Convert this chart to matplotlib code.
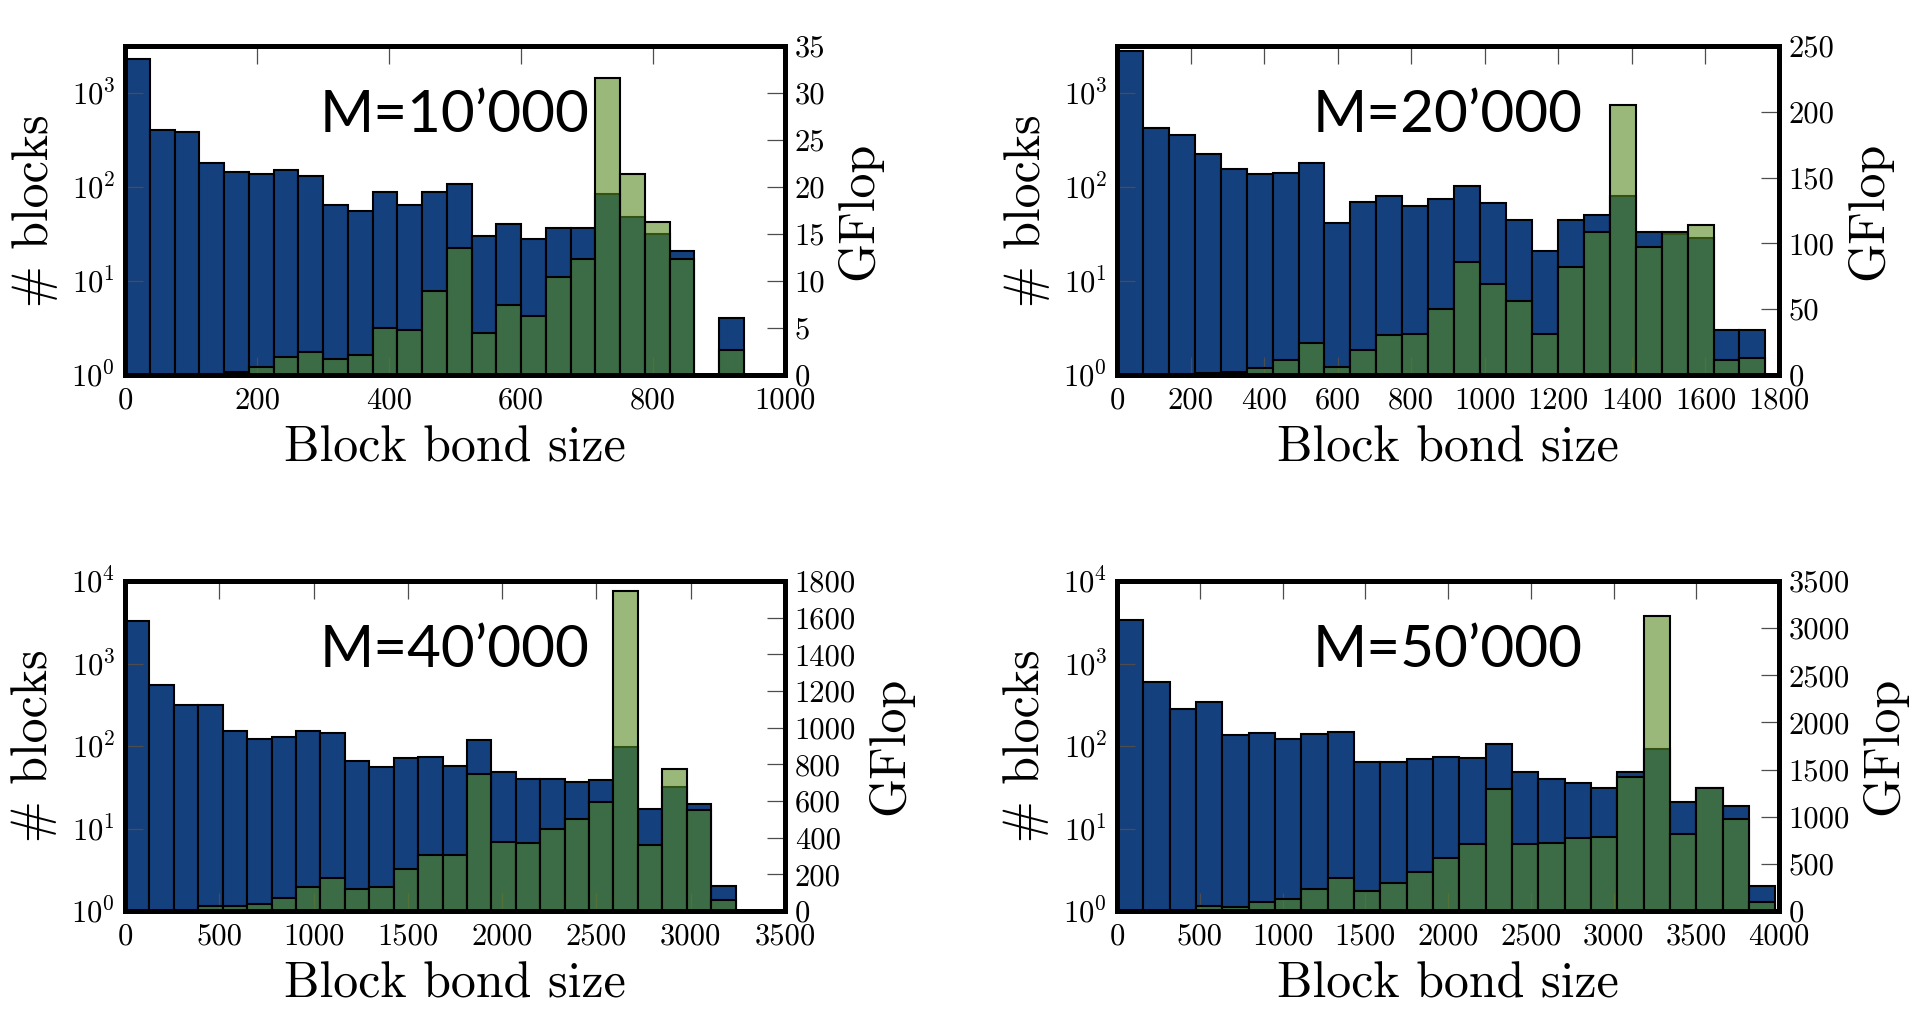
import matplotlib as mpl
import matplotlib.pyplot as plt
import numpy as np
from matplotlib.colors import to_rgba
from matplotlib.ticker import MultipleLocator, FuncFormatter


# GLOBAL
BLUE = "#14407e"
GREEN = "#578a21"
FIG_W, FIG_H = 1926, 1010

# Panel labels and axis ranges
labels = ["M=10’000", "M=20’000", "M=40’000", "M=50’000"]
x_max = [1000, 1800, 3500, 4000]
x_step = [200, 200, 500, 500]
bin_max = [937.5, 1763, 3238, 3978]
count_top = [10 ** 3.5, 10 ** 3.5, 1e4, 1e4]
gflop_max = [35, 250, 1800, 3500]
gflop_step = [5, 50, 200, 500]

# Number of blocks per bond size bin (25 bins each)
blocks_10k = [2300, 400, 386, 178, 143, 138, 153, 131, 65, 56, 88, 65, 89,
              107, 30, 40, 28, 37, 37, 84, 48, 32, 21, 0, 4]
blocks_20k = [2790, 429, 356, 227, 155, 136, 141, 178, 41, 70, 81, 63, 75,
              102, 67, 45, 21, 45, 50, 81, 33, 32, 29, 3, 3]
blocks_40k = [3270, 546, 312, 312, 153, 123, 127, 152, 145, 66, 56, 72, 74,
              58, 117, 49, 40, 40, 37, 39, 96, 17, 32, 20, 2]
blocks_50k = [3360, 600, 281, 345, 135, 144, 122, 140, 147, 64, 64, 70, 74,
              72, 107, 48, 40, 36, 31, 49, 93, 21, 31, 19, 2]

# GFlop per bond size bin
gflop_10k = [0, 0, 0.1, 0.15, 0.3, 0.9, 1.9, 2.5, 1.7, 2.1, 5.0, 4.8, 8.9,
             13.5, 4.5, 7.5, 6.3, 10.4, 12.3, 31.6, 21.4, 16.3, 12.3, 0, 2.7]
gflop_20k = [0, 0, 0.5, 1.5, 2.5, 5.6, 11.5, 24, 6.4, 19, 30.5, 31.3, 50,
             86, 69.5, 56.5, 31, 82, 108.6, 205, 97, 109, 114, 11.5, 13.2]
gflop_40k = [0, 0, 0, 27, 27, 40, 73, 133, 182, 118, 131, 227, 305, 304,
             749, 376, 369, 445, 500, 596, 1745, 360, 776, 551, 60]
gflop_50k = [0, 0, 0, 53, 46, 95, 131, 237, 354, 212, 293, 417, 566, 707,
             1298, 714, 725, 771, 785, 1421, 3128, 816, 1305, 972, 96]

blocks = [blocks_10k, blocks_20k, blocks_40k, blocks_50k]
gflops = [gflop_10k, gflop_20k, gflop_40k, gflop_50k]

# Axes boxes in pixels: left, top, width, height
boxes = [(125, 46, 660, 329), (1117, 46, 662, 329),
         (125, 581, 660, 330), (1117, 581, 662, 330)]


def rc_setup():
    """Utility - Generalized plot attributes"""
    mpl.rcParams["font.family"] = "cmr10"
    mpl.rcParams["mathtext.fontset"] = "cm"
    mpl.rcParams["axes.formatter.use_mathtext"] = True
    mpl.rcParams["axes.unicode_minus"] = False

    mpl.rcParams["xtick.direction"] = "in"
    mpl.rcParams["ytick.direction"] = "in"
    mpl.rcParams["xtick.major.size"] = 13
    mpl.rcParams["ytick.major.size"] = 13
    mpl.rcParams["xtick.major.width"] = 0.9
    mpl.rcParams["ytick.major.width"] = 0.9
    mpl.rcParams["xtick.color"] = "0.3"
    mpl.rcParams["ytick.color"] = "0.3"
    mpl.rcParams["xtick.labelcolor"] = "black"
    mpl.rcParams["ytick.labelcolor"] = "black"
    mpl.rcParams["xtick.labelsize"] = 22
    mpl.rcParams["ytick.labelsize"] = 22
    mpl.rcParams["xtick.major.pad"] = 9
    mpl.rcParams["ytick.major.pad"] = 7
    mpl.rcParams["axes.linewidth"] = 3.6
    mpl.rcParams["axes.labelsize"] = 36


def plot_panel(fig, idx):
    """Histogram of block counts with GFlop on a twin axis"""
    left, top, width, height = boxes[idx]
    ax = fig.add_axes([left / FIG_W, 1 - (top + height) / FIG_H,
                       width / FIG_W, height / FIG_H])

    # Bin edges
    edges = np.linspace(0, bin_max[idx], len(blocks[idx]) + 1)
    bin_w = edges[1] - edges[0]
    counts = np.array(blocks[idx], dtype=float)
    work = np.array(gflops[idx], dtype=float)

    # Block counts (log)
    keep = counts > 0
    ax.bar(edges[:-1][keep], counts[keep], width=bin_w, align="edge",
           color=BLUE, edgecolor="black", linewidth=1.5, bottom=1e-3)
    ax.set_yscale("log")
    ax.set_ylim(1, count_top[idx])
    ax.set_xlim(0, x_max[idx])
    ax.xaxis.set_major_locator(MultipleLocator(x_step[idx]))
    ax.xaxis.set_major_formatter(FuncFormatter(lambda v, p: f"{v:.0f}"))
    ax.yaxis.set_minor_locator(mpl.ticker.NullLocator())
    ax.tick_params(axis="x", top=True, bottom=True)
    ax.tick_params(axis="y", left=True, right=False)
    ax.set_xlabel("Block bond size", labelpad=8)
    ax.set_ylabel("# blocks", labelpad=10)

    # GFlop on twin axis, translucent face with solid edge
    ax2 = ax.twinx()
    keep = work > 0
    ax2.bar(edges[:-1][keep], work[keep], width=bin_w, align="edge",
            facecolor=to_rgba(GREEN, 0.6), edgecolor="black", linewidth=1.5)
    ax2.set_ylim(0, gflop_max[idx])
    ax2.yaxis.set_major_locator(MultipleLocator(gflop_step[idx]))
    ax2.yaxis.set_major_formatter(FuncFormatter(lambda v, p: f"{v:.0f}"))
    ax2.set_ylabel("GFlop", labelpad=8)

    ax2.text(0.5, 0.79, labels[idx], transform=ax2.transAxes,
             ha="center", va="center", fontsize=42, family="Lato")


rc_setup()
fig = plt.figure(figsize=(FIG_W / 100, FIG_H / 100), dpi=100)
for i in range(4):
    plot_panel(fig, i)

plt.savefig("out.png", dpi=100)
plt.close()
